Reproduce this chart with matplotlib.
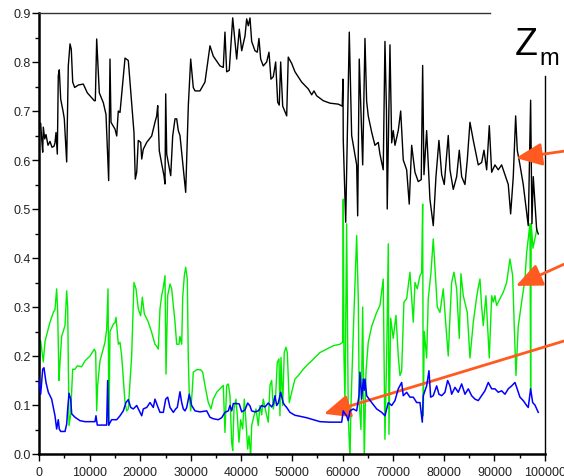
import matplotlib
matplotlib.use("Agg")
import matplotlib.pyplot as plt
from matplotlib.ticker import MultipleLocator, FormatStrFormatter

plt.rcParams['font.family'] = ['Liberation Sans', 'DejaVu Sans']

# ---- data ----
black_x = [0, 330, 530, 730, 850, 1130, 1380, 1780, 2170, 2570, 2960, 3160, 3360, 3620, 3810, 4010,
           4290, 4800, 5000, 5470, 5790, 6130, 6380, 6660, 7050, 7770, 8750, 9550, 10930, 11130, 11400,
           11660, 11920, 12710, 13240, 13500, 13770, 14030, 14230, 15020, 15360, 15670, 16010, 16460,
           17000, 17650, 18120, 18770, 19030, 19310, 19620, 20100, 20300, 20610, 21290, 22270, 22920,
           23260, 23460, 23770, 24250, 24700, 24900, 25040, 25240, 25550, 26030, 26420, 26880, 27210,
           27530, 27860, 28400, 28990, 29510, 29980, 30490, 30830, 31810, 32800, 33790, 34440, 35770,
           36420, 36750, 37090, 37600, 38280, 38730, 39070, 39580, 40060, 40710, 41040, 41360, 41700,
           42030, 42680, 43140, 43470, 43810, 44320, 44990, 45450, 45840, 46300, 46770, 47170, 47480,
           47760, 48160, 48950, 49260, 49940, 50590, 51910, 53220, 53890, 54340, 54880, 56180, 57500,
           59140, 59930, 60070, 60130, 60610, 61320, 61790, 62780, 62980, 63290, 63970, 64420, 64750,
           65070, 65740, 66390, 67050, 67380, 68030, 68370, 68670, 68820, 69360, 69700, 70010, 70350,
           71000, 71480, 71990, 72660, 73170, 73650, 74300, 74950, 75540, 75820, 76080, 76610, 77260,
           77920, 78450, 79040, 79580, 80090, 80880, 81220, 81870, 82540, 83060, 83530, 84180, 84640,
           85170, 85830, 86810, 87480, 87940, 88470, 88990, 89460, 90110, 90760, 91430, 92090, 92740,
           93210, 93730, 94200, 94520, 95050, 95700, 96690, 97160, 97420, 97680, 98350, 98670]
black_y = [0.675, 0.675, 0.643, 0.616, 0.667, 0.643, 0.652, 0.630, 0.638, 0.626, 0.628, 0.635, 0.656,
           0.612, 0.772, 0.784, 0.724, 0.697, 0.684, 0.596, 0.792, 0.837, 0.826, 0.759, 0.748, 0.753,
           0.755, 0.737, 0.721, 0.721, 0.847, 0.792, 0.737, 0.717, 0.693, 0.629, 0.558, 0.806, 0.677,
           0.663, 0.649, 0.700, 0.697, 0.748, 0.808, 0.803, 0.741, 0.656, 0.561, 0.575, 0.640, 0.636,
           0.602, 0.622, 0.636, 0.649, 0.677, 0.690, 0.711, 0.619, 0.592, 0.568, 0.551, 0.735, 0.612,
           0.595, 0.568, 0.649, 0.684, 0.684, 0.660, 0.650, 0.595, 0.534, 0.711, 0.806, 0.748, 0.741,
           0.741, 0.759, 0.833, 0.812, 0.792, 0.789, 0.861, 0.780, 0.783, 0.890, 0.842, 0.806, 0.867,
           0.823, 0.853, 0.888, 0.874, 0.890, 0.842, 0.823, 0.820, 0.848, 0.806, 0.792, 0.800, 0.820,
           0.765, 0.770, 0.800, 0.718, 0.712, 0.800, 0.710, 0.690, 0.810, 0.797, 0.780, 0.759, 0.745,
           0.733, 0.741, 0.731, 0.721, 0.716, 0.714, 0.710, 0.765, 0.640, 0.473, 0.861, 0.650, 0.590,
           0.486, 0.806, 0.590, 0.848, 0.720, 0.690, 0.657, 0.630, 0.636, 0.612, 0.580, 0.842, 0.700,
           0.500, 0.835, 0.635, 0.660, 0.630, 0.660, 0.700, 0.600, 0.580, 0.510, 0.630, 0.575, 0.556,
           0.560, 0.793, 0.570, 0.660, 0.520, 0.466, 0.566, 0.640, 0.570, 0.550, 0.650, 0.580, 0.540,
           0.566, 0.620, 0.566, 0.550, 0.600, 0.677, 0.640, 0.590, 0.595, 0.620, 0.580, 0.670, 0.575,
           0.590, 0.580, 0.590, 0.570, 0.550, 0.490, 0.566, 0.690, 0.620, 0.590, 0.550, 0.466, 0.722,
           0.470, 0.566, 0.458, 0.449]

green_x = [0, 330, 850, 1190, 2170, 2830, 3160, 3490, 3690, 3950, 4150, 4480, 5140, 5470, 5670, 5930,
           6260, 6650, 7110, 7580, 8430, 9090, 10080, 10930, 11200, 11400, 11590, 12050, 13040, 13370,
           13640, 13830, 14030, 14690, 15020, 15220, 15680, 16010, 16340, 17000, 17330, 17650, 18310,
           18770, 19170, 19630, 20090, 20420, 20820, 21610, 22270, 22920, 23250, 23580, 23910, 24240,
           24570, 24900, 25100, 25430, 25890, 26220, 26550, 26880, 27210, 27670, 27860, 28200, 28400,
           28720, 28990, 29310, 29500, 29700, 29980, 30290, 30490, 31160, 31950, 32350, 32800, 33460,
           33990, 34440, 35120, 35770, 36420, 36750, 37090, 37410, 37740, 38080, 38280, 38530, 38930,
           39190, 39520, 39860, 40250, 40570, 40910, 41240, 41500, 41830, 42030, 42490, 42880, 43340,
           43670, 44010, 44320, 44860, 45310, 45650, 45980, 46300, 46770, 47090, 47430, 47620, 47820,
           48160, 48470, 48810, 49070, 49460, 49940, 50590, 51240, 52230, 53220, 53890, 54540, 55530,
           56850, 58160, 59480, 60010, 60130, 60270, 60470, 60800, 61120, 61460, 61660, 62110, 62780,
           63100, 63290, 63630, 63970, 64280, 64620, 65070, 65740, 66730, 67380, 68030, 68370, 68710,
           69030, 69160, 69500, 70010, 70550, 71000, 71340, 71670, 72120, 72660, 73310, 73650, 73970,
           74300, 74760, 75290, 75620, 75820, 75940, 76140, 76610, 76930, 77460, 77920, 78250, 78710,
           79240, 79890, 80430, 80880, 81220, 81550, 82010, 82540, 83060, 83390, 83850, 84640, 85170,
           85830, 86490, 86810, 87150, 87480, 87800, 88330, 88990, 89460, 89780, 90110, 90440, 91100,
           91750, 92420, 93070, 93610, 93920, 94260, 94710, 95380, 96040, 96370, 96690, 97030, 97160,
           97280, 97620, 98010, 98410]
green_y = [0.153, 0.231, 0.188, 0.230, 0.269, 0.289, 0.295, 0.337, 0.290, 0.150, 0.187, 0.240, 0.262,
           0.333, 0.300, 0.058, 0.080, 0.173, 0.173, 0.180, 0.178, 0.190, 0.200, 0.214, 0.208, 0.088,
           0.140, 0.190, 0.228, 0.254, 0.337, 0.058, 0.250, 0.265, 0.268, 0.279, 0.224, 0.228, 0.200,
           0.105, 0.088, 0.092, 0.200, 0.350, 0.337, 0.296, 0.282, 0.320, 0.286, 0.269, 0.248, 0.224,
           0.220, 0.214, 0.296, 0.323, 0.340, 0.364, 0.163, 0.323, 0.347, 0.337, 0.303, 0.269, 0.224,
           0.224, 0.240, 0.224, 0.320, 0.364, 0.381, 0.357, 0.200, 0.119, 0.088, 0.130, 0.167, 0.172,
           0.172, 0.167, 0.140, 0.105, 0.092, 0.112, 0.126, 0.133, 0.140, 0.044, 0.140, 0.143, 0.119,
           0.024, 0.007, 0.092, 0.112, 0.078, 0.024, 0.070, 0.051, 0.112, 0.065, 0.010, 0.037, -0.005,
           0.058, 0.078, 0.092, 0.058, 0.099, 0.080, 0.112, 0.085, 0.065, 0.140, 0.150, 0.092, 0.119,
           0.187, 0.194, 0.078, 0.197, 0.099, 0.207, 0.218, 0.207, 0.105, 0.126, 0.153, 0.160, 0.173,
           0.184, 0.190, 0.197, 0.207, 0.214, 0.221, 0.224, 0.228, 0.520, 0.200, 0.105, 0.470, 0.078,
           -0.010, 0.100, 0.247, 0.446, 0.317, 0.105, 0.050, 0.300, -0.010, 0.167, 0.228, 0.260, 0.289,
           0.303, 0.357, 0.030, 0.200, 0.429, 0.040, 0.277, 0.236, 0.283, 0.200, 0.160, 0.170, 0.310,
           0.317, 0.371, 0.320, 0.269, 0.350, 0.337, 0.364, 0.370, 0.510, 0.078, 0.250, 0.196, 0.317,
           0.370, 0.439, 0.380, 0.300, 0.289, 0.337, 0.260, 0.200, 0.280, 0.350, 0.371, 0.337, 0.236,
           0.368, 0.323, 0.289, 0.196, 0.269, 0.320, 0.340, 0.357, 0.300, 0.262, 0.323, 0.196, 0.323,
           0.310, 0.323, 0.303, 0.317, 0.330, 0.350, 0.398, 0.364, 0.262, 0.160, 0.260, 0.310, 0.357,
           0.410, 0.440, 0.470, 0.130, 0.470, 0.420, 0.440, 0.460]

blue_x = [0, 330, 730, 990, 1380, 1840, 2500, 3160, 3490, 3810, 4010, 4290, 5140, 5470, 5670, 5930,
          6260, 6460, 7110, 8100, 9090, 11070, 11260, 11520, 13370, 13570, 13770, 14360, 15360, 16010,
          16660, 17190, 17650, 18120, 18640, 19310, 19820, 20300, 20610, 21290, 21940, 22590, 22920,
          23380, 23910, 24570, 25040, 25430, 25890, 26550, 27010, 27330, 27860, 28200, 28520, 28850,
          29190, 29700, 30170, 30830, 31810, 32470, 33140, 33790, 34440, 35430, 36100, 36750, 37410,
          37740, 38080, 38400, 39070, 39580, 40060, 40710, 41240, 41700, 42030, 42680, 43340, 44010,
          44660, 45310, 45980, 46300, 46640, 46970, 47290, 47760, 48280, 48610, 48950, 49600, 50590,
          51580, 52900, 54200, 55530, 57500, 59820, 60130, 60470, 60800, 61120, 61460, 62110, 62780,
          63240, 63430, 63770, 64090, 64280, 64420, 64750, 65740, 66730, 67720, 68370, 69030, 69700,
          70350, 71000, 71670, 71990, 72660, 73310, 73970, 74640, 75290, 75750, 75940, 76610, 77070,
          77400, 77920, 78590, 79040, 79580, 80230, 80760, 81220, 81550, 82210, 82860, 83530, 84180,
          84840, 85500, 86160, 86810, 87480, 88130, 88790, 89460, 90110, 90760, 91430, 92090, 92740,
          93410, 94060, 94400, 95050, 95700, 96370, 96690, 97160, 97560, 98010, 98670]
blue_y = [0.153, 0.122, 0.173, 0.176, 0.146, 0.126, 0.112, 0.078, 0.051, 0.070, 0.051, 0.046, 0.046,
          0.061, 0.092, 0.124, 0.112, 0.082, 0.075, 0.068, 0.066, 0.066, 0.078, 0.059, 0.059, 0.150,
          0.059, 0.070, 0.070, 0.078, 0.088, 0.105, 0.111, 0.095, 0.092, 0.099, 0.088, 0.078, 0.092,
          0.095, 0.105, 0.095, 0.112, 0.099, 0.085, 0.085, 0.112, 0.116, 0.095, 0.085, 0.092, 0.095,
          0.127, 0.105, 0.092, 0.088, 0.095, 0.122, 0.099, 0.088, 0.086, 0.087, 0.088, 0.075, 0.072,
          0.070, 0.074, 0.085, 0.088, 0.099, 0.088, 0.103, 0.103, 0.102, 0.086, 0.090, 0.104, 0.098,
          0.088, 0.086, 0.088, 0.099, 0.096, 0.104, 0.096, 0.102, 0.119, 0.099, 0.104, 0.126, 0.104,
          0.099, 0.095, 0.085, 0.079, 0.077, 0.074, 0.070, 0.066, 0.065, 0.065, 0.088, 0.082, 0.078,
          0.068, 0.088, 0.092, 0.088, 0.119, 0.167, 0.112, 0.153, 0.130, 0.153, 0.119, 0.105, 0.092,
          0.085, 0.078, 0.105, 0.099, 0.109, 0.133, 0.146, 0.119, 0.126, 0.116, 0.116, 0.105, 0.105,
          0.065, 0.119, 0.139, 0.170, 0.116, 0.119, 0.139, 0.122, 0.119, 0.126, 0.150, 0.139, 0.122,
          0.136, 0.126, 0.143, 0.122, 0.133, 0.119, 0.112, 0.109, 0.119, 0.129, 0.146, 0.133, 0.133,
          0.126, 0.129, 0.122, 0.133, 0.139, 0.146, 0.136, 0.116, 0.109, 0.099, 0.095, 0.133, 0.105,
          0.100, 0.085]

x_ticks = [0, 10000, 20000, 30000, 40000, 50000, 60000, 70000, 80000, 90000, 100000]
y_ticks = [0.0, 0.1, 0.2, 0.3, 0.4, 0.5, 0.6, 0.7, 0.8, 0.9]

# arrow targets (data coords) and arrow tails (figure fraction)
arrow_tips = [(94260, 0.604), (94260, 0.343), (56320, 0.082)]
arrow_tails = [(1.0, 0.681), (1.0, 0.444), (1.0, 0.283)]

# ---- figure ----
fig = plt.figure(figsize=(5.64, 4.77), dpi=100)
ax = fig.add_axes([39 / 564, 1 - 455 / 477, 506 / 564, 441 / 477])

ax.plot(green_x, green_y, color='#00ee00', lw=1.0, zorder=2)
ax.plot(black_x, black_y, color='black', lw=1.0, zorder=3)
ax.plot(blue_x, blue_y, color='#0000ff', lw=1.1, zorder=4)

ax.set_xlim(0, 100000)
ax.set_ylim(0, 0.9)
ax.set_xticks(x_ticks)
ax.set_xticklabels([str(v) for v in x_ticks])
ax.set_yticks(y_ticks)
ax.yaxis.set_major_formatter(FormatStrFormatter('%.1f'))
ax.xaxis.set_minor_locator(MultipleLocator(5000))
ax.yaxis.set_minor_locator(MultipleLocator(0.05))
ax.tick_params(axis='both', which='major', length=5, width=1, direction='out',
               labelsize=9, labelcolor='#222222')
ax.tick_params(axis='both', which='minor', length=3, width=1, direction='out')
ax.tick_params(axis='y', which='major', pad=1)
ax.tick_params(axis='x', which='major', pad=4)

for s in ('left', 'bottom'):
    ax.spines[s].set_linewidth(1.8)
ax.spines['top'].set_linewidth(1.0)
ax.spines['top'].set_color('#333333')
ax.spines['right'].set_linewidth(1.0)
ax.spines['top'].set_bounds(0, 89130)
ax.spines['right'].set_bounds(0, 0.771)

# Zm label
fig.text(515 / 564, 1 - 55 / 477, 'Z', fontsize=27, ha='left', va='baseline')
fig.text(539 / 564, 1 - 65 / 477, 'm', fontsize=17, ha='left', va='baseline')

arrow_color = '#ff5a1f'
for tip, tail in zip(arrow_tips, arrow_tails):
    ax.annotate('', xy=tip, xycoords='data', xytext=tail, textcoords='figure fraction',
                annotation_clip=False,
                arrowprops=dict(arrowstyle='-|>,head_length=0.8,head_width=0.35',
                                mutation_scale=20, color=arrow_color, lw=2,
                                shrinkA=0, shrinkB=0))

fig.savefig('out.png', dpi=100)
